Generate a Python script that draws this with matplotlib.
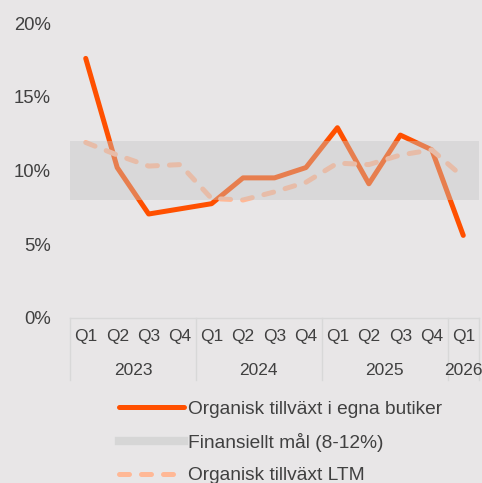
import matplotlib.pyplot as plt
from matplotlib.lines import Line2D
from matplotlib.transforms import blended_transform_factory

plt.rcParams['font.family'] = ['Liberation Sans', 'DejaVu Sans']

# Data
quarters = ['Q1', 'Q2', 'Q3', 'Q4', 'Q1', 'Q2', 'Q3', 'Q4', 'Q1', 'Q2', 'Q3', 'Q4', 'Q1']
years = ['2023', '2024', '2025', '2026']
year_sizes = [4, 4, 4, 1]
organic = [17.6, 10.2, 7.05, 7.4, 7.75, 9.5, 9.5, 10.2, 12.9, 9.1, 12.4, 11.4, 5.6]
organic_ltm = [11.9, 11.05, 10.3, 10.4, 8.1, 8.0, 8.55, 9.2, 10.5, 10.4, 11.05, 11.4, 9.55]
target_low, target_high = 8, 12

bg = '#E8E6E7'
txt = '#404040'
orange = '#FF5000'
light = '#FFB896'

fig = plt.figure(figsize=(4.82, 4.83), dpi=100, facecolor=bg)
ax = fig.add_axes([70 / 482, 1 - 318 / 483, 409 / 482, 295 / 483])
ax.set_facecolor(bg)

x = list(range(len(quarters)))
ax.plot(x, organic, color=orange, lw=3.6, solid_capstyle='round', zorder=2)
ax.plot(x, organic_ltm, color=light, lw=3.6, linestyle=(0, (2, 2.4)),
        dash_capstyle='round', zorder=2)
# target band is drawn on top of the lines, semi-transparent
ax.axhspan(target_low, target_high, color='#C4C4C4', alpha=0.4, lw=0, zorder=3)

ax.set_xlim(-0.5, len(quarters) - 0.5)
ax.set_ylim(0, 20)
ax.set_yticks([0, 5, 10, 15, 20])
ax.set_yticklabels([f'{v}%' for v in [0, 5, 10, 15, 20]])
ax.set_xticks(x)
ax.set_xticklabels(quarters)
ax.tick_params(axis='both', length=0, colors=txt, labelsize=12.5)
ax.tick_params(axis='y', pad=14, labelsize=13.3)
ax.tick_params(axis='x', pad=8)
for s in ax.spines.values():
    s.set_visible(False)

# category table under the axis
tr = blended_transform_factory(ax.transData, ax.transAxes)
sep_col = '#D8D8D8'
ax.plot([-0.5, len(quarters) - 0.5], [0, 0], color=sep_col, lw=1, transform=tr, clip_on=False)
start = -0.5
for yr, n in zip(years, year_sizes):
    ax.plot([start, start], [0, -0.21], color=sep_col, lw=1, transform=tr, clip_on=False)
    ax.text(start + n / 2, -0.178, yr, transform=tr, ha='center', va='center',
            color=txt, fontsize=12.5)
    start += n
ax.plot([start, start], [0, -0.21], color=sep_col, lw=1, transform=tr, clip_on=False)

handles = [
    Line2D([], [], color=orange, lw=3.6, solid_capstyle='round'),
    Line2D([], [], color='#D6D6D6', lw=6),
    Line2D([], [], color=light, lw=3.6, linestyle=(0, (2, 2.4)), dash_capstyle='round'),
]
labels = ['Organisk tillväxt i egna butiker', 'Finansiellt mål (8-12%)', 'Organisk tillväxt LTM']
fig.legend(handles, labels, loc='upper left', bbox_to_anchor=(109 / 482, 1 - 391 / 483),
           frameon=False, fontsize=13.8, handlelength=3.4, handletextpad=0.2,
           labelspacing=0.78, labelcolor=txt, borderpad=0)

fig.savefig('out.png', dpi=100, facecolor=bg)
